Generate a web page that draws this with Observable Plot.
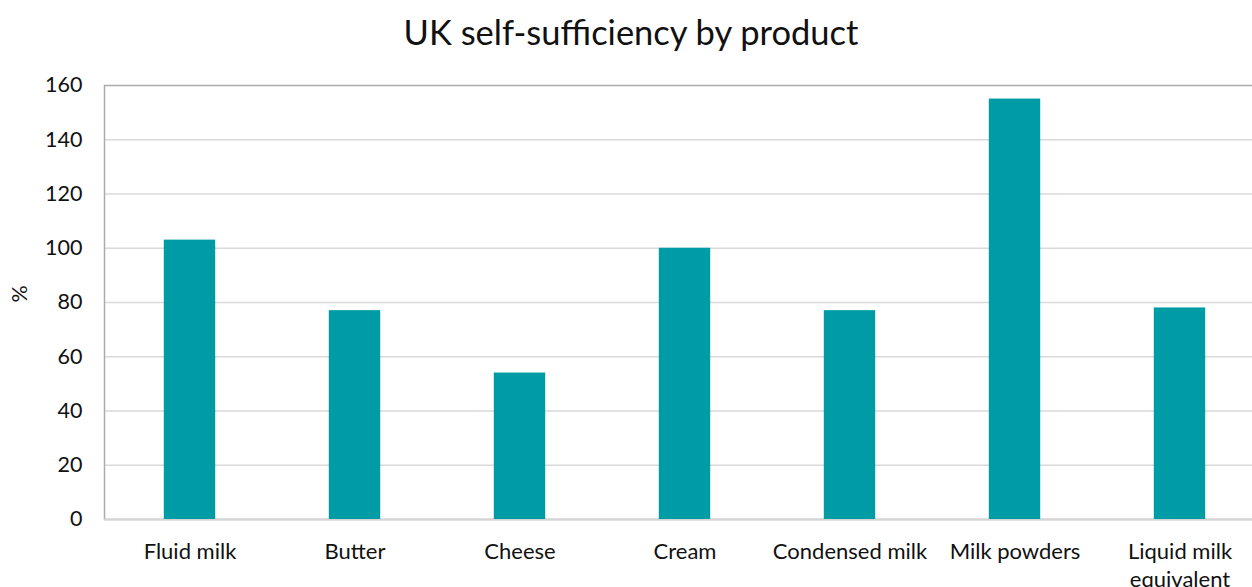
<!DOCTYPE html>
<html>
<head>
<meta charset="utf-8">
<script src="https://cdn.jsdelivr.net/npm/d3@7"></script>
<script src="https://cdn.jsdelivr.net/npm/@observablehq/plot@0.6"></script>
<style>
  html, body { margin: 0; padding: 0; background: white; overflow: hidden; }
  #title { height: 66px; width: 1252px; font-family: Lato, sans-serif; font-size: 34.5px; color: #111;
           text-align: center; line-height: 64px; padding-left: 10px; box-sizing: border-box; }
</style>
</head>
<body>
<div id="title">UK self-sufficiency by product</div>
<div id="chart"></div>
<script>
const categories = ["Fluid milk", "Butter", "Cheese", "Cream", "Condensed milk", "Milk powders", "Liquid milk equivalent"];
const values = [103, 77, 54, 100, 77, 155, 78];
const yTicks = [0, 20, 40, 60, 80, 100, 120, 140, 160];
const gridTicks = [20, 40, 60, 80, 100, 120, 140];
const tickLabels = {"Liquid milk equivalent": "Liquid milk\nequivalent"};

const data = categories.map((c, i) => ({product: c, value: values[i]}));

const chart = Plot.plot({
  width: 1252,
  height: 521,
  marginTop: 19,
  marginBottom: 68,
  marginLeft: 104,
  marginRight: -12,
  style: {fontFamily: "Lato, sans-serif", fontSize: "22px", color: "#111", background: "white"},
  x: {domain: categories, padding: 0, label: null},
  y: {domain: [0, 160], label: null},
  marks: [
    Plot.ruleY(gridTicks, {stroke: "#d9d9d9", strokeWidth: 1.5}),
    Plot.frame({stroke: "#ababab", strokeWidth: 1.5}),
    Plot.ruleY([0], {stroke: "#d4d4d4", strokeWidth: 2}),
    Plot.barY(data, {x: "product", y: "value", fill: "#009ca6", insetLeft: 56.8, insetRight: 56.8}),
    Plot.axisY({ticks: yTicks, tickSize: 0, tickPadding: 22, label: null, fontSize: 21.5}),
    Plot.axisX({tickSize: 0, tickPadding: 20, label: null, fontSize: 22, lineHeight: 1.25,
                tickFormat: d => tickLabels[d] ?? d}),
    Plot.text(["%"], {frameAnchor: "left", dx: -84, rotate: -90, fontSize: 21.5})
  ]
});
document.getElementById("chart").append(chart);
</script>
</body>
</html>
